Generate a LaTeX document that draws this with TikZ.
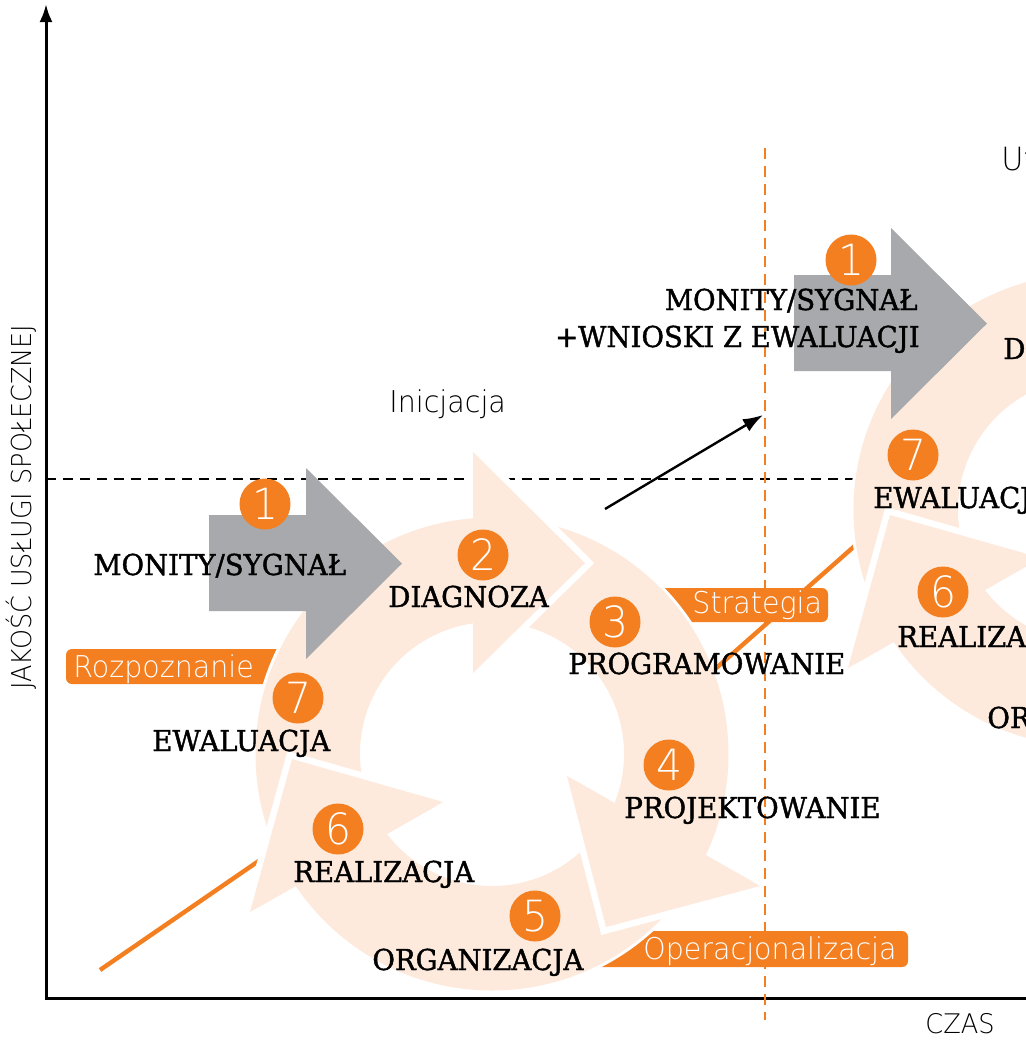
\documentclass[tikz,border=0pt]{standalone}
\usepackage{fontspec}
\usetikzlibrary{arrows.meta}
\newfontfamily\capfont{DejaVu Serif}[FakeStretch=0.955,FakeBold=1.4]
\newfontfamily\thinfont{DejaVu Sans ExtraLight}[FakeStretch=0.95]
\newfontfamily\thinnarrow{DejaVu Sans ExtraLight}[FakeStretch=0.93]
\definecolor{orng}{HTML}{F37F21}
\definecolor{peach}{HTML}{FDEADC}
\definecolor{grayarr}{HTML}{A7A9AC}
\newcommand{\ArrA}{(473,452) -- (585,563) -- (473,673) -- cycle}
\newcommand{\ArrB}{(567,776) -- (606,927) -- (760,886) -- cycle}
\newcommand{\ArrC}{(443,802) -- (292,759) -- (250,912) -- cycle}
\newcommand{\drawring}{%
  \draw[white, line width=3pt] (492,754) circle[radius=236.5];
  \draw[white, line width=3pt, line join=miter] \ArrA;
  \draw[white, line width=3pt, line join=miter] \ArrB;
  \draw[white, line width=3pt, line join=miter] \ArrC;
  \fill[peach, even odd rule] (492,754) circle[radius=236.5] (492,754) circle[radius=132];
  \fill[peach] \ArrA;
  \fill[peach] \ArrB;
  \fill[peach] \ArrC;
  \draw[white, line width=6.5pt, line join=miter, miter limit=4] (473,452) -- (585,563) -- (473,673);
  \draw[white, line width=6.5pt, line join=miter, miter limit=4] (567,776) -- (606,927) -- (760,886);
  \draw[white, line width=6.5pt, line join=miter, miter limit=4] (443,802) -- (292,759) -- (250,912);
  \fill[peach] \ArrA;
  \fill[peach] \ArrB;
  \fill[peach] \ArrC;
}
\begin{document}
\begin{tikzpicture}[x=0.5pt,y=-0.5pt,
  capt/.style={font=\capfont\fontsize{14.4pt}{16pt}\selectfont, anchor=base west, inner sep=0pt, text=black},
  thintxt/.style={font=\thinfont\fontsize{15pt}{16pt}\selectfont, anchor=base west, inner sep=0pt, text=black},
  labtxt/.style={font=\thinfont\fontsize{15pt}{16pt}\selectfont, anchor=base west, inner sep=0pt, text=white},
  numc/.style={circle, fill=orng, minimum size=25.5pt, inner sep=0pt, text=white, font=\thinfont\fontsize{21.5pt}{22pt}\selectfont},
  labbox/.style={fill=orng, rounded corners=3pt},
  trend/.style={orng, line width=2.2pt},
  grayarrow/.style={fill=grayarr}]
\useasboundingbox (0,0) rectangle (1026,1040);
\clip (0,0) rectangle (1026,1040);

% axes
\coordinate (axend) at (1040,998);
\coordinate (axo) at (46,998);
\coordinate (axtop) at (46,4);
\draw[line width=1.5pt, -{Latex[length=9pt,width=6.5pt]}] (axend) -- (axo) -- (axtop);

% dashed threshold line
\coordinate (dl1) at (46,479);
\coordinate (dl2) at (900,479);
\draw[line width=1pt, dash pattern=on 5pt off 3.5pt] (dl1) -- (dl2);

% trend lines
\coordinate (t1a) at (100,970);
\coordinate (t1b) at (330,812);
\coordinate (t2a) at (680,700);
\coordinate (t2b) at (900,506);
\draw[trend] (t1a) -- (t1b);
\draw[trend] (t2a) -- (t2b);

% label boxes (under the rings)
\fill[labbox] (66,649) rectangle (300,684);
\fill[labbox] (650,588) rectangle (828,622);
\fill[labbox] (580,931) rectangle (908,967);

% rings
\drawring
\begin{scope}[shift={(598,-244)}]
\drawring
\end{scope}

% gray arrows
\fill[grayarrow] (209,515) -- (306,515) -- (306,468) -- (402,563.5) -- (306,659) -- (306,611) -- (209,611) -- cycle;
\fill[grayarrow] (794,275) -- (891,275) -- (891,228) -- (987,323.5) -- (891,419) -- (891,371) -- (794,371) -- cycle;

% orange vertical dashed line
\coordinate (vd1) at (765,148);
\coordinate (vd2) at (765,1020);
\draw[orng, line width=1.4pt, dash pattern=on 5.5pt off 3.5pt] (vd1) -- (vd2);

% black arrow
\coordinate (ba1) at (605,509);
\coordinate (ba2) at (763,415);
\draw[line width=1.2pt, -{Latex[length=10pt,width=7pt]}] (ba1) -- (ba2);

% number circles
\node[numc] (n1) at (265,504) {1};
\node[numc] (n2) at (483,555) {2};
\node[numc] (n3) at (615,622) {3};
\node[numc] (n4) at (669,765) {4};
\node[numc] (n5) at (535,916) {5};
\node[numc] (n6) at (338,829) {6};
\node[numc] (n7) at (298,698) {7};
\node[numc] (m1) at (851,260) {1};
\node[numc] (m7) at (913,455) {7};
\node[numc] (m6) at (943,592) {6};

% stage labels
\node[capt] (monit) at (93,575) {MONITY/SYGNAŁ};
\node[capt] (diag) at (388,607) {DIAGNOZA};
\node[capt] (prog) at (568,674) {PROGRAMOWANIE};
\node[capt] (proj) at (624,818) {PROJEKTOWANIE};
\node[capt] (org) at (372,970) {ORGANIZACJA};
\node[capt] (real) at (293,882) {REALIZACJA};
\node[capt] (ewal) at (152,751) {EWALUACJA};
\node[capt, anchor=base east] (monit2) at (918,310) {MONITY/SYGNAŁ};
\node[capt, anchor=base east] (wnio) at (920,347) {+WNIOSKI Z EWALUACJI};
\node[capt] (diag2) at (1003,359) {DIAGNOZA};
\node[capt] (ewal2) at (873,508) {EWALUACJA};
\node[capt] (real2) at (897,647) {REALIZACJA};
\node[capt] (org2) at (987,728) {ORGANIZACJA};

% phase labels
\node[labtxt] (roz) at (73,677) {Rozpoznanie};
\node[labtxt] (str) at (692,613) {Strategia};
\node[labtxt] (ope) at (643,959) {Operacjonalizacja};
\node[thintxt] (ini) at (389,412) {Inicjacja};
\node[thintxt, font=\thinfont\fontsize{16pt}{17pt}\selectfont] (utr) at (1001,170) {Utrwalenie};

% axis titles
\node[thintxt, font=\thinfont\fontsize{13.5pt}{14pt}\selectfont] (czas) at (925,1033) {CZAS};
\node[thintxt, font=\thinnarrow\fontsize{13.7pt}{15pt}\selectfont, rotate=90] (jak) at (32,690) {JAKOŚĆ USŁUGI SPOŁECZNEJ};
\end{tikzpicture}
\end{document}
